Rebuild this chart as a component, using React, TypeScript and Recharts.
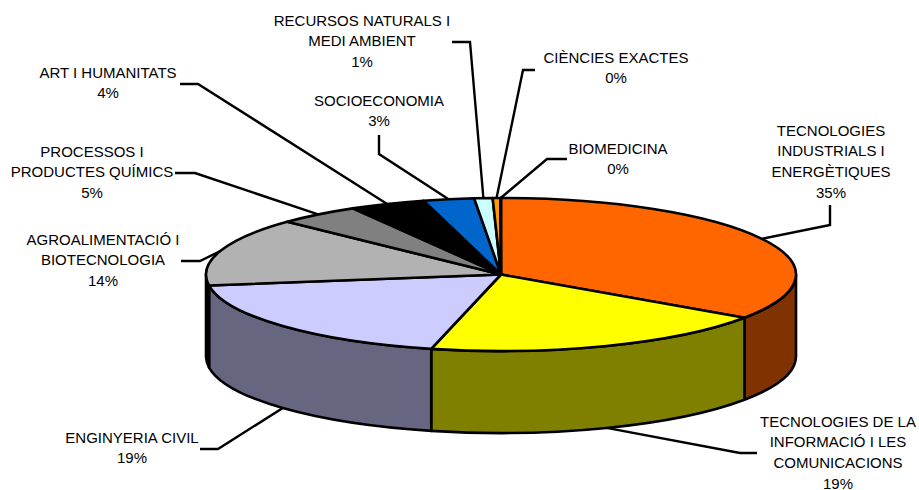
import React from 'react';
import { PieChart, Pie } from 'recharts';

const categories = [
  ['TECNOLOGIES', 'INDUSTRIALS I', 'ENERGÈTIQUES'],
  ['TECNOLOGIES DE LA', 'INFORMACIÓ I LES', 'COMUNICACIONS'],
  ['ENGINYERIA CIVIL'],
  ['AGROALIMENTACIÓ I', 'BIOTECNOLOGIA'],
  ['PROCESSOS I', 'PRODUCTES QUÍMICS'],
  ['ART I HUMANITATS'],
  ['SOCIOECONOMIA'],
  ['RECURSOS NATURALS I', 'MEDI AMBIENT'],
  ['CIÈNCIES EXACTES'],
  ['BIOMEDICINA'],
];
const shares = [34.55, 19.25, 18.9, 14.4, 4.52, 4.15, 2.78, 1.0, 0.42, 0.03];
const topColors = ['#FF6600', '#FFFF00', '#CCCCFF', '#B2B2B2', '#808080', '#000000', '#0066CC', '#CCFFFF', '#FF9900', '#FFFFFF'];
const wallColors = ['#803300', '#808000', '#666680', '#000000', '#404040', '#000000', '#003366', '#668080', '#804D00', '#808080'];

// where each label sits: text centre, first line y, leader elbow, leader end
const labelLayout = [
  { x: 831, y: 130, elbow: [830, 225], end: [830, 205] },
  { x: 838, y: 421, elbow: [740, 453], end: [757, 453] },
  { x: 132, y: 437, elbow: [218, 449], end: [200, 449] },
  { x: 103, y: 239, elbow: [200, 261], end: [181, 261] },
  { x: 92, y: 151, elbow: [195, 173], end: [175, 173] },
  { x: 108, y: 72, elbow: [198, 84], end: [180, 84] },
  { x: 379, y: 100, elbow: [379, 154], end: [379, 135] },
  { x: 362, y: 20, elbow: [470, 42], end: [452, 42] },
  { x: 616, y: 57, elbow: [523, 70], end: [535, 70] },
  { x: 618, y: 148, elbow: [547, 159], end: [567, 159] },
];

const data = shares.map((value, i) => ({ name: categories[i].join(' '), value, fill: topColors[i] }));

const RX = 295;
const RY = 76.5;
const DEPTH = 82;
const LINE_PITCH = 20.8;

const onEllipse = (cx: number, cy: number, deg: number) => {
  const r = (deg * Math.PI) / 180;
  return [cx + RX * Math.cos(r), cy - RY * Math.sin(r)];
};

const Slice3D = (props: any) => {
  const { cx, cy, startAngle, endAngle, index } = props;
  const a = onEllipse(cx, cy, startAngle);
  const b = onEllipse(cx, cy, endAngle);
  const large = startAngle - endAngle > 180 ? 1 : 0;

  // the wall only shows on the front half of the ellipse
  const wallFrom = Math.min(startAngle, 0);
  const wallTo = Math.max(endAngle, -180);
  let wall = null;
  if (wallFrom > wallTo) {
    const p = onEllipse(cx, cy, wallFrom);
    const q = onEllipse(cx, cy, wallTo);
    wall = (
      <path
        d={`M${p[0]},${p[1]} A${RX},${RY} 0 0 1 ${q[0]},${q[1]} L${q[0]},${q[1] + DEPTH} A${RX},${RY} 0 0 0 ${p[0]},${p[1] + DEPTH} Z`}
        fill={wallColors[index]}
        stroke="#000"
        strokeWidth={2.6}
        strokeLinejoin="round"
      />
    );
  }

  return (
    <g>
      {wall}
      <path
        d={`M${cx},${cy} L${a[0]},${a[1]} A${RX},${RY} 0 ${large} 1 ${b[0]},${b[1]} Z`}
        fill={topColors[index]}
        stroke="#000"
        strokeWidth={2.6}
        strokeLinejoin="round"
      />
    </g>
  );
};

const renderLabel = (props: any) => {
  const { cx, cy, midAngle, percent, index } = props;
  const layout = labelLayout[index];
  const start = onEllipse(cx, cy, midAngle);
  const norm = ((midAngle % 360) + 360) % 360;
  if (norm > 180) start[1] += DEPTH;
  const lines = [...categories[index], `${Math.round(percent * 100)}%`];
  return (
    <g key={index}>
      <polyline
        points={`${start[0]},${start[1]} ${layout.elbow[0]},${layout.elbow[1]} ${layout.end[0]},${layout.end[1]}`}
        fill="none"
        stroke="#000"
        strokeWidth={2.4}
      />
      {lines.map((line, i) => (
        <text
          key={i}
          x={layout.x}
          y={layout.y + i * LINE_PITCH}
          textAnchor="middle"
          dominantBaseline="central"
          fontFamily="Liberation Sans"
          fontSize={15}
          fill="#000"
        >
          {line}
        </text>
      ))}
    </g>
  );
};

export default function App() {
  return (
    <div style={{ position: 'absolute', left: 0, top: 0 }}>
      <PieChart width={919} height={490} margin={{ top: 0, right: 0, bottom: 0, left: 0 }}>
        <Pie
          data={data}
          dataKey="value"
          nameKey="name"
          cx={501}
          cy={274.5}
          outerRadius={RX}
          startAngle={90}
          endAngle={-270}
          stroke="#000"
          shape={Slice3D}
          label={renderLabel}
          labelLine={false}
          isAnimationActive={false}
        />
      </PieChart>
    </div>
  );
}
